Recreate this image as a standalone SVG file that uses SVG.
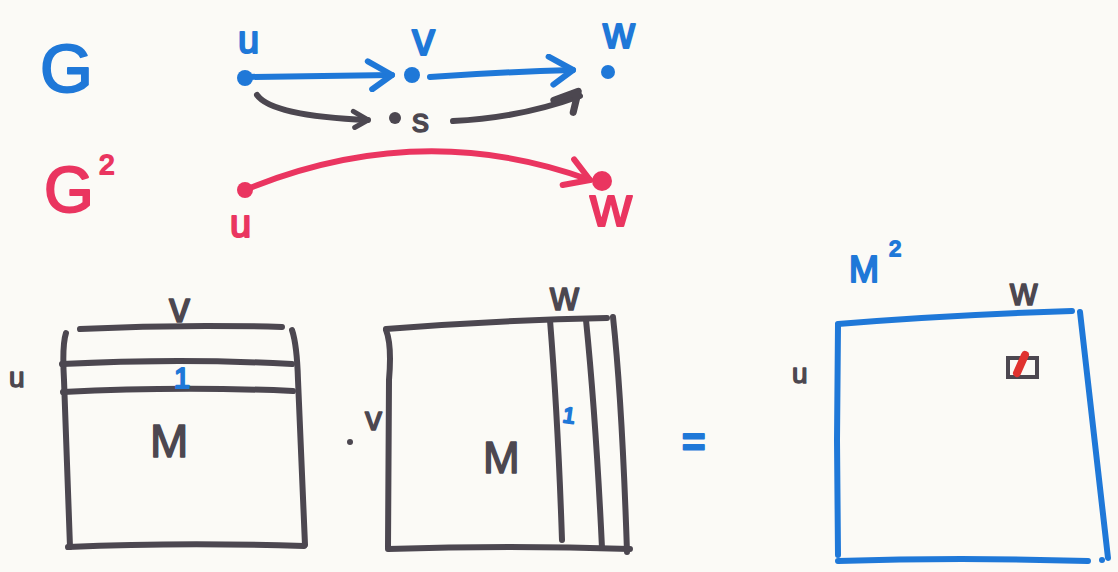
<svg xmlns="http://www.w3.org/2000/svg" width="1118" height="572" viewBox="0 0 1118 572">
<defs>
<style>
.bg{fill:#fbfaf6}
.bl{stroke:#1f78d8;fill:none;stroke-width:6;stroke-linecap:round;stroke-linejoin:round}
.gr{stroke:#4c4750;fill:none;stroke-width:6;stroke-linecap:round;stroke-linejoin:round}
.rd{stroke:#ea3560;fill:none;stroke-width:6;stroke-linecap:round;stroke-linejoin:round}
.t{font-family:"Liberation Sans","DejaVu Sans",sans-serif;stroke-linejoin:round}
.tb{fill:#1f78d8;stroke:#1f78d8;stroke-width:2}
.tg{fill:#4c4750;stroke:#4c4750;stroke-width:1.5}
.tr{fill:#ea3560;stroke:#ea3560;stroke-width:2}
</style>
<marker id="ab" markerUnits="userSpaceOnUse" markerWidth="34" markerHeight="34" viewBox="0 0 34 34" refX="30" refY="17" orient="auto">
<path d="M6,3 L30,17 L10,31" fill="none" stroke="#1f78d8" stroke-width="6" stroke-linecap="round" stroke-linejoin="round"/>
</marker>
<marker id="ag" markerUnits="userSpaceOnUse" markerWidth="24" markerHeight="24" viewBox="0 0 24 24" refX="20" refY="12" orient="auto">
<path d="M5,4 L20,12 L7,20" fill="none" stroke="#4c4750" stroke-width="5" stroke-linecap="round" stroke-linejoin="round"/>
</marker>
<marker id="ag2" markerUnits="userSpaceOnUse" markerWidth="34" markerHeight="34" viewBox="0 0 34 34" refX="30" refY="17" orient="auto">
<path d="M4,12 L30,12 L18,30" fill="none" stroke="#4c4750" stroke-width="7" stroke-linecap="round" stroke-linejoin="round"/>
</marker>
<marker id="ar" markerUnits="userSpaceOnUse" markerWidth="36" markerHeight="36" viewBox="0 0 36 36" refX="30" refY="18" orient="auto">
<path d="M8,4 L30,18 L6,32" fill="none" stroke="#ea3560" stroke-width="6" stroke-linecap="round" stroke-linejoin="round"/>
</marker>
</defs>
<rect class="bg" x="0" y="0" width="1118" height="572"/>

<g id="connectors">
<path class="bl" d="M245,77 L392,75" marker-end="url(#ab)"/>
<path class="bl" d="M430,77 Q500,72 573,70" marker-end="url(#ab)"/>
<path class="gr" d="M257,95 Q272,116 368,120" marker-end="url(#ag)"/>
<path class="gr" d="M453,121 Q520,118 580,96" marker-end="url(#ag2)"/>
<path class="rd" d="M245,190 Q420,118 590,180" marker-end="url(#ar)"/>
</g>

<g id="label-G">
<text class="t tb" x="40" y="92" font-size="68">G</text>
</g>
<g id="label-G2">
<text class="t tr" x="44" y="212" font-size="64">G</text>
<text class="t tr" x="99" y="174" font-size="28">2</text>
</g>

<g id="node-u">
<circle cx="245" cy="78" r="8" fill="#1f78d8"/>
<text class="t tb" x="238" y="53" font-size="38">u</text>
</g>
<g id="node-v">
<circle cx="412" cy="75" r="8" fill="#1f78d8"/>
<text class="t tb" x="412" y="55" font-size="46">v</text>
</g>
<g id="node-w">
<circle cx="608" cy="72" r="7" fill="#1f78d8"/>
<text class="t tb" x="603" y="48" font-size="44">w</text>
</g>
<g id="node-s">
<circle cx="395" cy="118" r="6" fill="#4c4750"/>
<text class="t tg" x="412" y="132" font-size="34">s</text>
</g>

<g id="node-u2">
<circle cx="245" cy="190" r="8" fill="#ea3560"/>
<text class="t tr" x="230" y="237" font-size="38">u</text>
</g>
<g id="node-w2">
<circle cx="602" cy="181" r="10" fill="#ea3560"/>
<text class="t tr" x="590" y="226" font-size="58">w</text>
</g>

<g id="matrix-M1">
<path class="gr" d="M80,329 Q180,324 282,327"/>
<path class="gr" d="M66,333 Q62,345 64,380 L70,547"/>
<path class="gr" d="M292,330 Q297,345 298,380 L305,545"/>
<path class="gr" d="M62,364 Q180,358 292,364"/>
<path class="gr" d="M63,392 Q180,386 293,391"/>
<path class="gr" d="M68,547 Q180,542 304,546"/>
<text class="t tb" x="174" y="388" font-size="29">1</text>
<text class="t tg" x="150" y="457" font-size="46">M</text>
<text class="t tg" x="169" y="322" font-size="42">v</text>
<text class="t tg" x="9" y="387" font-size="28">u</text>
</g>

<g id="matrix-M2">
<path class="gr" d="M386,329 Q500,320 607,318"/>
<path class="gr" d="M386,330 Q392,345 389,380 L388,547"/>
<path class="gr" d="M388,549 Q510,545 630,549"/>
<path class="gr" d="M613,317 Q622,400 627,552"/>
<path class="gr" d="M550,320 Q558,420 562,540"/>
<path class="gr" d="M586,320 Q596,420 602,548"/>
<text class="t tb" x="563" y="423" font-size="22" transform="rotate(8 570 415)">1</text>
<text class="t tg" x="483" y="473" font-size="44">M</text>
<text class="t tg" x="550" y="310" font-size="40">w</text>
<circle cx="350" cy="442" r="3" fill="#4c4750"/>
<text class="t tg" x="365" y="430" font-size="34">v</text>
</g>

<g id="equals">
<text class="t tb" x="682" y="456" font-size="40" font-weight="bold">=</text>
</g>

<g id="matrix-M2-result">
<path class="bl" d="M838,324 Q950,315 1072,311"/>
<path class="bl" d="M838,325 L837,440 L838,555"/>
<path class="bl" d="M1080,312 Q1090,400 1108,558"/>
<path class="bl" d="M838,561 Q960,557 1088,561"/>
<circle cx="1102" cy="560" r="3" fill="#1f78d8"/>
<text class="t tb" x="849" y="282" font-size="36">M</text>
<text class="t tb" x="889" y="256" font-size="22">2</text>
<text class="t tg" x="1010" y="305" font-size="38">w</text>
<text class="t tg" x="792" y="383" font-size="28">u</text>
<rect x="1008" y="358" width="29" height="19" fill="none" stroke="#4c4750" stroke-width="4"/>
<path d="M1025,355 L1017,373" stroke="#e0322f" stroke-width="8" stroke-linecap="round"/>
</g>
</svg>
